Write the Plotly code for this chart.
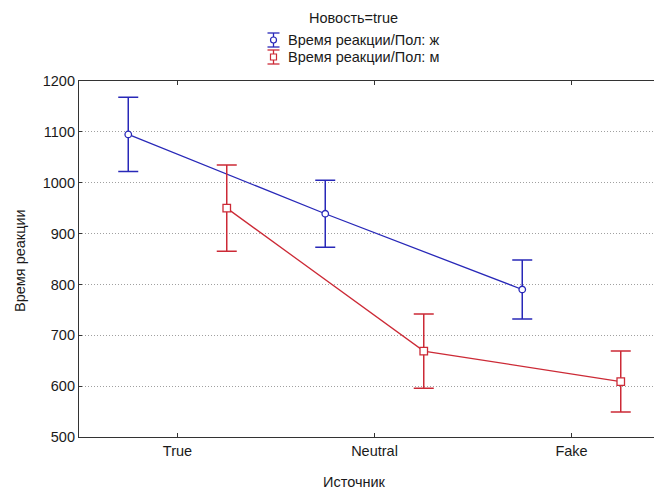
import plotly.graph_objects as go

categories = ["True", "Neutral", "Fake"]
series_names = ["Время реакции/Пол: ж", "Время реакции/Пол: м"]
f_means = [1095, 939, 790]
f_err = [73, 66, 58]
m_means = [950, 669, 609]
m_err = [85, 73, 60]
y_ticks = [500, 600, 700, 800, 900, 1000, 1100, 1200]

BLUE = "#2828b8"
RED = "#cc2a36"
FONT = "Liberation Sans, Arial, sans-serif"
TXT = "#1a1a1a"
FS = 14.5

# page has an 8px body margin, so the figure is sized to fit the 662x493 window
W, H = 654, 485
L, R, T, B = 71, 0, 73, 56
OFF = 0.25
idx = list(range(len(categories)))
xr = [-0.5, 2.5 - 8 / 197.0]

fig = go.Figure()
for name, means, err, col, sym, size, dx in [
    (series_names[0], f_means, f_err, BLUE, "circle", 6.5, -OFF),
    (series_names[1], m_means, m_err, RED, "square", 7.5, OFF),
]:
    fig.add_trace(go.Scatter(
        x=[i + dx for i in idx], y=means, mode="lines+markers", name=name,
        line=dict(color=col, width=1.3),
        marker=dict(symbol=sym, size=size, color="white", line=dict(color=col, width=1.3)),
        error_y=dict(type="data", array=err, visible=True, color=col, thickness=1.5, width=10),
        showlegend=False,
    ))

fig.update_layout(
    width=W, height=H,
    margin=dict(l=L, r=R, t=T, b=B),
    paper_bgcolor="white", plot_bgcolor="white",
    font=dict(family=FONT, size=FS, color=TXT),
    xaxis=dict(range=xr, tickvals=idx, ticktext=categories, showgrid=False,
               showline=True, linecolor="#333333", linewidth=1.2, mirror="allticks",
               ticks="inside", ticklen=4, tickcolor="#333333", zeroline=False,
               tickfont=dict(size=FS)),
    yaxis=dict(range=[500, 1200], tickvals=y_ticks, showgrid=True, gridcolor="#a0a0a0",
               griddash="1px,2px", gridwidth=1, showline=True, linecolor="#333333",
               linewidth=1.2, ticks="inside", ticklen=3, tickcolor="#333333",
               zeroline=False, tickfont=dict(size=FS)),
)

def py(px):
    return 1 + (T - px) / (H - T - B)

def pxx(px):
    return (px - L) / (W - L - R)

# axis titles
fig.add_annotation(text="Источник", xref="paper", yref="paper", x=pxx(346), y=py(474),
                   showarrow=False, font=dict(size=FS), xanchor="center", yanchor="middle")
fig.add_annotation(text="Время реакции", xref="paper", yref="paper", x=pxx(12), y=py(253),
                   showarrow=False, font=dict(size=FS), textangle=-90,
                   xanchor="center", yanchor="middle")

# legend (title + entries)
fig.add_annotation(text="Новость=true", xref="paper", yref="paper", x=pxx(345), y=py(10),
                   showarrow=False, xanchor="center", yanchor="middle", font=dict(size=FS))
for k, (name, col, sq) in enumerate([(series_names[0], BLUE, False), (series_names[1], RED, True)]):
    yc = 32 + 17 * k
    cx = 265.5
    fig.add_annotation(text=name, xref="paper", yref="paper", x=pxx(278), y=py(yc),
                       showarrow=False, xanchor="left", yanchor="middle", font=dict(size=FS))
    fig.add_shape(type="line", xref="paper", yref="paper", x0=pxx(cx), x1=pxx(cx),
                  y0=py(yc - 7), y1=py(yc + 7), line=dict(color=col, width=1.3))
    for yy in (yc - 7, yc + 7):
        fig.add_shape(type="line", xref="paper", yref="paper", x0=pxx(cx - 6), x1=pxx(cx + 6),
                      y0=py(yy), y1=py(yy), line=dict(color=col, width=1.3))
    fig.add_shape(type="rect" if sq else "circle", xref="paper", yref="paper",
                  x0=pxx(cx - 3), x1=pxx(cx + 3), y0=py(yc - 3), y1=py(yc + 3),
                  line=dict(color=col, width=1.2), fillcolor="white")

fig.write_html("out.html")
